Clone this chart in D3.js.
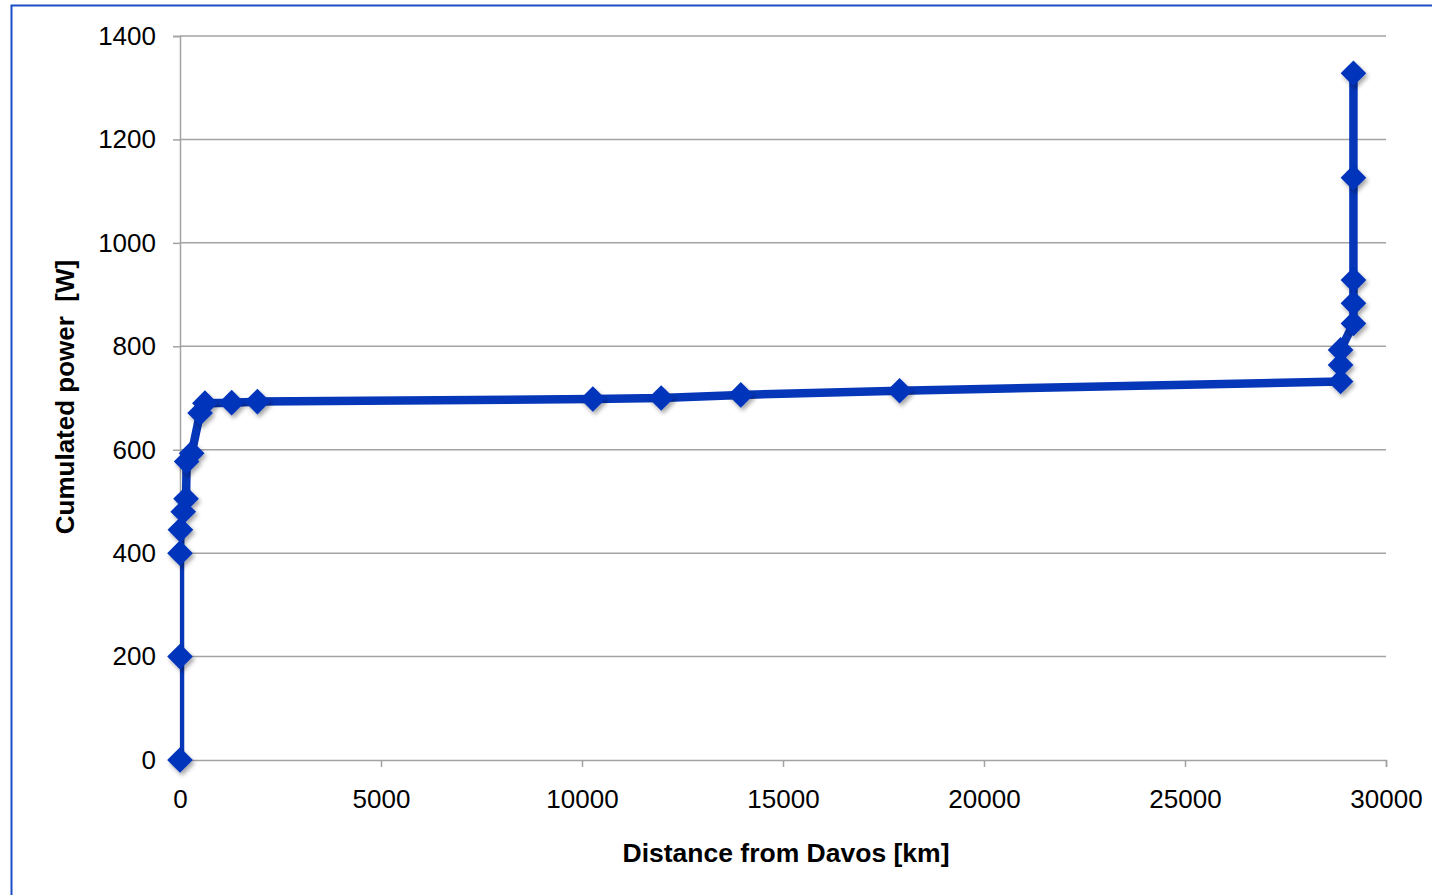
<!DOCTYPE html>
<html>
<head>
<meta charset="utf-8">
<script src="https://cdn.jsdelivr.net/npm/d3@7"></script>
<style>
  body { margin: 0; background: #fff; }
  #chart { width: 1432px; height: 895px; }
</style>
</head>
<body>
<div id="chart"></div>
<script>
(function () {
    // Values
    const distanceKm = [0, 0, 0, 10, 80, 150, 165, 290, 500, 620, 1285, 1925,
                        10270, 11970, 13950, 17900, 28870, 28870, 28870,
                        29190, 29190, 29190, 29190, 29190];
    const powerW = [0, 200, 400, 445, 480, 505, 577, 593, 671, 690, 691, 693,
                    698, 700, 706, 714, 732, 764, 793, 844, 883, 928, 1126, 1328];
    const xTicks = [0, 5000, 10000, 15000, 20000, 25000, 30000];
    const yTicks = [0, 200, 400, 600, 800, 1000, 1200, 1400];

    const data = distanceKm.map((d, i) => ({ x: d, y: powerW[i] }));

    const totalW = 1432, totalH = 895;
    const margin = { top: 36, right: 46, bottom: 135, left: 180 };
    const width = totalW - margin.left - margin.right;
    const height = totalH - margin.top - margin.bottom;

    const blue = "#0637b8";
    const font = "'Liberation Sans', Arial, sans-serif";

    const root = d3.select("#chart")
      .append("svg")
        .attr("width", totalW)
        .attr("height", totalH);

    // outer frame (runs off the right and bottom edges)
    root.append("rect")
        .attr("x", 11.5)
        .attr("y", 5.5)
        .attr("width", totalW + 20)
        .attr("height", totalH + 20)
        .attr("fill", "none")
        .attr("stroke", "#1c4cc6")
        .attr("stroke-width", 2);

    const defs = root.append("defs");
    defs.append("clipPath").attr("id", "plot-clip")
      .append("rect")
        .attr("x", 0).attr("y", -20)
        .attr("width", width).attr("height", height + 20);
    const shadow = defs.append("filter").attr("id", "shadow")
        .attr("x", "-50%").attr("y", "-50%")
        .attr("width", "200%").attr("height", "200%");
    shadow.append("feDropShadow")
        .attr("dx", 2).attr("dy", 3)
        .attr("stdDeviation", 2)
        .attr("flood-color", "#000")
        .attr("flood-opacity", 0.35);

    const svg = root.append("g")
        .attr("transform", `translate(${margin.left},${margin.top})`);

    const x = d3.scaleLinear().domain([0, 30000]).range([0, width]);
    const y = d3.scaleLinear().domain([0, 1400]).range([height, 0]);

    // horizontal gridlines
    svg.append("g")
      .selectAll("line")
      .data(yTicks.slice(1))
      .enter()
      .append("line")
        .attr("x1", 0)
        .attr("x2", width)
        .attr("y1", d => y(d))
        .attr("y2", d => y(d))
        .attr("stroke", "#a3a3a3")
        .attr("stroke-width", 1.5);

    // Y axis
    const yAxis = svg.append("g")
        .call(d3.axisLeft(y).tickValues(yTicks).tickSize(7).tickPadding(17)
              .tickFormat(d3.format("d")));
    // X axis
    const xAxis = svg.append("g")
        .attr("transform", `translate(0,${height})`)
        .call(d3.axisBottom(x).tickValues(xTicks).tickSize(7).tickPadding(23)
              .tickFormat(d3.format("d")));

    [yAxis, xAxis].forEach(a => {
        a.select(".domain").attr("stroke", "#a3a3a3").attr("stroke-width", 1.5);
        a.selectAll(".tick line").attr("stroke", "#a3a3a3").attr("stroke-width", 1.5);
        a.selectAll(".tick text")
          .style("font-family", font)
          .style("font-size", "26px")
          .attr("fill", "#000");
    });

    // the line
    const line = d3.line().x(d => x(d.x)).y(d => y(d.y));
    svg.append("path")
        .datum(data)
        .attr("clip-path", "url(#plot-clip)")
        .attr("d", line)
        .attr("fill", "none")
        .attr("stroke", blue)
        .attr("stroke-width", 8.5)
        .attr("stroke-linejoin", "round");

    // diamond markers
    const diamond = d3.symbol().type(d3.symbolDiamond2).size(420);
    svg.append("g")
        .attr("filter", "url(#shadow)")
      .selectAll("path")
      .data(data)
      .enter()
      .append("path")
        .attr("transform", d => `translate(${x(d.x)},${y(d.y)})`)
        .attr("d", diamond)
        .attr("fill", "#0534bb");

    // X-axis label
    svg.append("text")
        .attr("x", width / 2 + 3)
        .attr("y", height + 102)
        .attr("text-anchor", "middle")
        .style("font-family", font)
        .style("font-weight", "bold")
        .style("font-size", "26.5px")
        .text("Distance from Davos [km]");

    // Y-axis label
    svg.append("text")
        .attr("transform", "rotate(-90)")
        .attr("x", -(397 - margin.top))
        .attr("y", 74 - margin.left)
        .attr("text-anchor", "middle")
        .style("font-family", font)
        .style("font-weight", "bold")
        .style("font-size", "26px")
        .style("white-space", "pre")
        .text("Cumulated power  [W]");
})();
</script>
</body>
</html>
